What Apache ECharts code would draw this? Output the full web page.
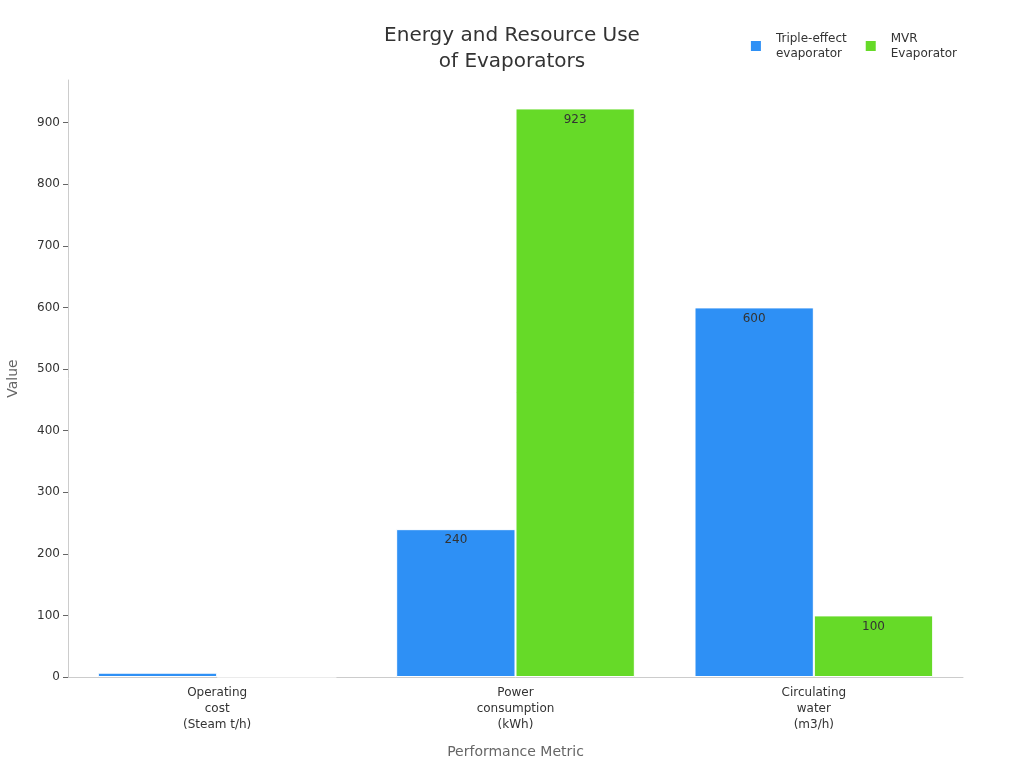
<!DOCTYPE html>
<html>
<head>
<meta charset="utf-8">
<script src="https://cdn.jsdelivr.net/npm/echarts@6/dist/echarts.min.js"></script>
<style>
  html, body { margin: 0; padding: 0; background: #fff; }
  #chart { width: 1024px; height: 768px; }
</style>
</head>
<body>
<div id="chart"></div>
<script>
// data
const categories = ['Operating\ncost\n(Steam t/h)', 'Power\nconsumption\n(kWh)', 'Circulating\nwater\n(m3/h)'];
const tripleEffect = [7, 240, 600];
const mvr = [0.4, 923, 100];
const seriesNames = ['Triple-effect\nevaporator', 'MVR\nEvaporator'];

const yMax = Math.max(...tripleEffect, ...mvr) * 1.05;

const chart = echarts.init(document.getElementById('chart'));

const labelStyle = {
  show: true,
  position: 'insideTop',
  color: '#333',
  fontSize: 12,
  fontFamily: 'DejaVu Sans',
  formatter: p => (p.value >= 20 ? p.value : '')
};

chart.setOption({
  animation: false,
  textStyle: { fontFamily: 'DejaVu Sans' },
  title: {
    text: 'Energy and Resource Use\nof Evaporators',
    left: 'center',
    top: 18,
    textStyle: { fontSize: 20, fontWeight: 'normal', color: '#333', lineHeight: 26 }
  },
  legend: {
    right: 62,
    top: 26,
    itemWidth: 12,
    itemHeight: 12,
    itemGap: 17,
    icon: 'rect',
    textStyle: { fontSize: 12, color: '#333', lineHeight: 15, padding: [0, 0, 0, 9] },
    data: seriesNames
  },
  grid: { left: 68, right: 61, top: 80, bottom: 91, outerBoundsMode: 'none' },
  xAxis: {
    type: 'category',
    data: categories,
    name: 'Performance Metric',
    nameLocation: 'middle',
    nameGap: 68,
    nameTextStyle: { fontSize: 14, color: '#666' },
    axisLine: { lineStyle: { color: '#ccc' } },
    axisTick: { alignWithLabel: true, lineStyle: { color: '#666' } },
    axisLabel: { color: '#333', fontSize: 12, lineHeight: 16, margin: 8 }
  },
  yAxis: {
    type: 'value',
    min: 0,
    max: yMax,
    interval: 100,
    name: 'Value',
    nameLocation: 'middle',
    nameGap: 48,
    nameTextStyle: { fontSize: 14, color: '#666' },
    axisLine: { show: true, lineStyle: { color: '#ccc' } },
    axisTick: { show: true, lineStyle: { color: '#666' } },
    splitLine: { show: false },
    axisLabel: { color: '#333', fontSize: 12, showMaxLabel: false }
  },
  series: [
    {
      name: seriesNames[0],
      type: 'bar',
      data: tripleEffect,
      barGap: '0%',
      barCategoryGap: '20%',
      itemStyle: { color: '#2E90F5', borderColor: '#fff', borderWidth: 1 },
      label: labelStyle
    },
    {
      name: seriesNames[1],
      type: 'bar',
      data: mvr,
      itemStyle: { color: '#66DA28', borderColor: '#fff', borderWidth: 1 },
      label: labelStyle
    }
  ]
});
</script>
</body>
</html>
